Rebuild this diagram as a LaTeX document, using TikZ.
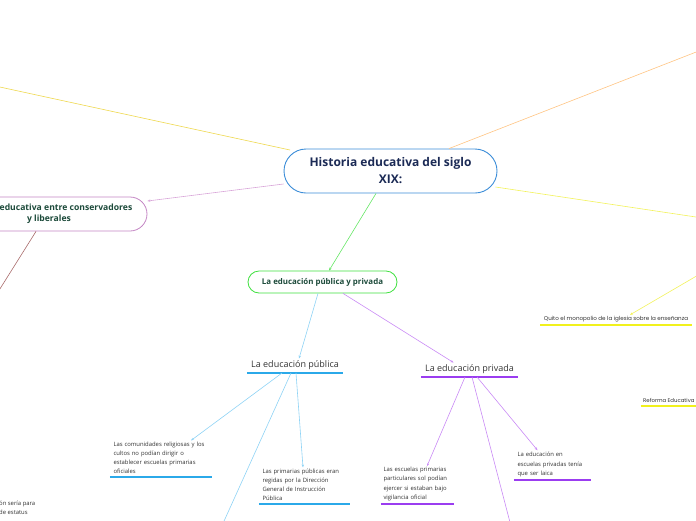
\documentclass[tikz,border=0pt]{standalone}
\usepackage{fontspec}
\setmainfont{Open Sans}
\newfontfamily\popfont{Poppins}
\usetikzlibrary{arrows.meta}
\definecolor{mapblue}{HTML}{3C8DD8}
\definecolor{mapnavy}{HTML}{1B2A55}
\definecolor{mapgreen}{HTML}{3FE03F}
\definecolor{leafblue}{HTML}{8ED3F5}
\definecolor{ulblue}{HTML}{2BA9E9}
\definecolor{leafpurple}{HTML}{C98AF5}
\definecolor{ulpurple}{HTML}{9B3DF0}
\definecolor{mapyellow}{HTML}{F2F25A}
\definecolor{ulyellow}{HTML}{F1F11C}
\definecolor{gold}{HTML}{EED84E}
\definecolor{peach}{HTML}{FFC482}
\definecolor{pinkline}{HTML}{D9A6D9}
\definecolor{pinkbox}{HTML}{C486C4}
\definecolor{brownline}{HTML}{A86A6A}
\definecolor{darkgreen}{HTML}{1C4A3A}
\definecolor{txt}{HTML}{333333}

\begin{document}
\begin{tikzpicture}[x=1pt, y=-1pt,
    lnk/.style={line width=0.6pt, -{Stealth[length=3pt,width=2.4pt]}},
    central/.style={draw=mapblue, line width=0.9pt, fill=white, rounded corners=22pt,
      minimum width=213pt, minimum height=44pt, align=center, text=mapnavy,
      font=\bfseries\fontsize{12}{17}\selectfont},
    topic/.style={line width=0.8pt, fill=white, align=center, text=darkgreen,
      font=\bfseries\fontsize{8.6}{11}\selectfont},
    sub/.style={inner xsep=4pt, inner ysep=3pt, text=txt, font=\fontsize{9}{11}\selectfont},
    leaf/.style={inner xsep=3.5pt, inner ysep=3pt, align=left, text=txt,
      font=\fontsize{5.9}{9.2}\selectfont},
    ul/.style={line width=1.6pt}]
\useasboundingbox (0,0) rectangle (696,520);
\clip (0,0) rectangle (696,520);

% main topics
\node[central] (main) at (390.5,171) {Historia educativa del siglo\\XIX:};
\node[topic, draw=pinkbox, rounded corners=17pt, minimum width=196pt, minimum height=34pt]
  (lucha) at (49,214) {\hspace*{34pt}educativa entre conservadores\\y liberales};
\node[topic, draw=mapgreen, rounded corners=11pt, minimum width=149pt, minimum height=22pt,
  font=\bfseries\fontsize{7.9}{9}\selectfont] (pubpriv) at (322.5,282) {La educación pública y privada};

% subtopics
\node[sub, anchor=south] (pub) at (295,373) {La educación pública};
\node[sub, anchor=south] (priv) at (469.5,377) {La educación privada};

% leaves
\node[leaf, text width=95pt, anchor=south] (com) at (161,477)
  {Las comunidades religiosas y los\\cultos no podían dirigir o\\establecer escuelas primarias\\oficiales};
\node[leaf, text width=84pt, anchor=south] (prim) at (304.5,504)
  {Las primarias públicas eran\\regidas por la Dirección\\General de Instrucción\\Pública};
\node[leaf, text width=68pt, inner xsep=2.5pt, anchor=south] (esc) at (417.5,504)
  {Las escuelas primarias\\particulares sol podían\\ejercer si estaban bajo\\vigilancia oficial};
\node[leaf, text width=70pt, anchor=south] (laica) at (552.5,480)
  {La educación en\\escuelas privadas tenía\\que ser laica};
\node[leaf, anchor=south, font=\popfont\fontsize{5.6}{8}\selectfont] (quito) at (616,325)
  {Quito el monopolio de la iglesia sobre la enseñanza};
\node[leaf, anchor=south east, minimum width=56pt, inner xsep=1pt, font=\popfont\fontsize{5.4}{8}\selectfont] (reforma) at (697,406)
  {Reforma Educativa};
\node[leaf, anchor=north west, inner xsep=0pt] (clase) at (-1,498) {ón sería para\\de estatus};

\foreach \n/\c in {pub/ulblue, com/ulblue, prim/ulblue, priv/ulpurple, esc/ulpurple,
    laica/ulpurple, quito/ulyellow, reforma/ulyellow}
  \draw[ul, \c] (\n.south west) -- (\n.south east);

% free ends of branches that leave the page
\coordinate (tl) at (-20,82.7);
\coordinate (tr) at (720,42.7);
\coordinate (er) at (720,220.6);
\coordinate (qr) at (720,262.3);
\coordinate (bl) at (-20,320.7);
\coordinate (pubd) at (220,530);
\coordinate (privd) at (512,530);

% connectors
\draw[lnk, gold] ([xshift=-100.5pt,yshift=21pt]main.center) -- (tl);
\draw[lnk, peach] ([xshift=58.5pt]main.north) -- (tr);
\draw[lnk, mapyellow] ([xshift=105pt,yshift=-16pt]main.center) -- (er);
\draw[lnk, pinkline] ([yshift=-13pt]main.west) -- ([yshift=13pt]lucha.east);
\draw[lnk, brownline] ([xshift=-13pt]lucha.south) -- (bl);
\draw[lnk, mapgreen!80] ([xshift=-14.5pt]main.south) -- ([xshift=6.5pt]pubpriv.north);
\draw[lnk, leafblue] ([xshift=-4.5pt]pubpriv.south) -- ([xshift=4pt,yshift=-1pt]pub.north);
\draw[lnk, leafpurple] ([xshift=20.5pt]pubpriv.south) -- ([xshift=-16pt,yshift=-1pt]priv.north);
\draw[lnk, leafblue] ([xshift=-13pt]pub.south) -- ([xshift=30pt,yshift=-2pt]com.north);
\draw[lnk, leafblue] ([xshift=1pt]pub.south) -- ([xshift=-1.5pt,yshift=-2pt]prim.north);
\draw[lnk, leafblue] ([xshift=-4pt]pub.south) -- (pubd);
\draw[lnk, leafpurple] ([xshift=-4.5pt]priv.south) -- ([xshift=9.5pt,yshift=-2pt]esc.north);
\draw[lnk, leafpurple] ([xshift=2.5pt]priv.south) -- (privd);
\draw[lnk, leafpurple] ([xshift=7.5pt]priv.south) -- ([xshift=-15pt,yshift=-1pt]laica.north);
\draw[lnk, mapyellow] (qr) -- ([xshift=14pt,yshift=-2pt]quito.north);
\end{tikzpicture}
\end{document}
